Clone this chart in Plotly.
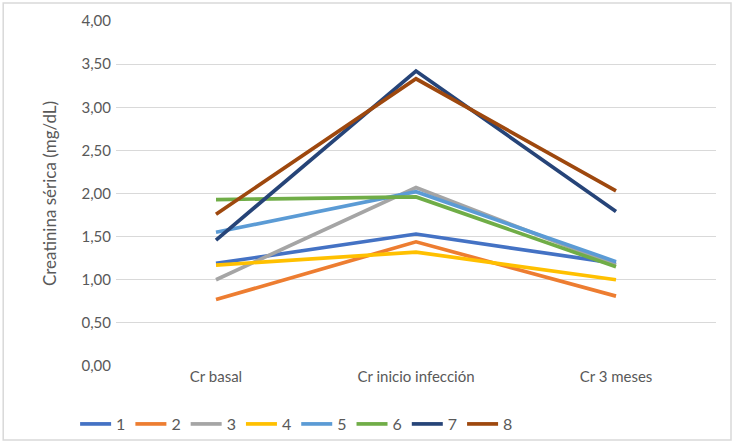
import plotly.graph_objects as go

categories = ["Cr basal", "Cr inicio infección", "Cr 3 meses"]
series_names = ["1", "2", "3", "4", "5", "6", "7", "8"]
s1 = [1.19, 1.53, 1.19]
s2 = [0.77, 1.44, 0.81]
s3 = [1.00, 2.07, 1.17]
s4 = [1.17, 1.32, 1.00]
s5 = [1.55, 2.02, 1.21]
s6 = [1.93, 1.96, 1.15]
s7 = [1.46, 3.42, 1.79]
s8 = [1.76, 3.33, 2.03]
y_ticks = [0, 0.5, 1, 1.5, 2, 2.5, 3, 3.5, 4]

series_values = [s1, s2, s3, s4, s5, s6, s7, s8]
colors = ["#4472C4", "#ED7D31", "#A5A5A5", "#FFC000", "#5B9BD5", "#70AD47", "#264478", "#9E480E"]

fig = go.Figure()
for name, vals, c in zip(series_names, series_values, colors):
    fig.add_trace(go.Scatter(x=categories, y=vals, name=name, mode="lines",
                             line=dict(color=c, width=3.7)))

font = "Lato, Carlito, 'Liberation Sans', sans-serif"
fig.update_layout(
    width=736, height=444,
    margin=dict(l=116, r=20, t=21, b=78, autoexpand=False),
    paper_bgcolor="white", plot_bgcolor="white",
    separators=",.",
    font=dict(family=font, color="#595959", size=15),
    showlegend=True,
    legend=dict(orientation="h", xref="container", yref="container",
                x=0.403, xanchor="center", y=0.045, yanchor="middle",
                font=dict(size=16, color="#595959"), traceorder="normal",
                itemwidth=31, tracegroupgap=0, bgcolor="rgba(0,0,0,0)"),
    xaxis=dict(type="category", range=[-0.5, 2.5], showgrid=False, showline=False,
               ticks="", tickfont=dict(size=15, color="#595959"), zeroline=False),
    yaxis=dict(range=[0, 4], tickvals=y_ticks, tickformat=".2f", showgrid=True,
               gridcolor="#D9D9D9", gridwidth=1, zeroline=False, showline=False,
               tickfont=dict(size=15, color="#595959"), ticklen=1, ticks="outside",
               tickcolor="rgba(0,0,0,0)",
               title=dict(text="Creatinina sérica (mg/dL)", font=dict(size=17, color="#595959"),
                          standoff=20)),
    shapes=[dict(type="rect", xref="paper", yref="paper", x0=-0.188, x1=1.025,
                 y0=-0.2145, y1=1.052, line=dict(color="#D9D9D9", width=1.5),
                 fillcolor="rgba(0,0,0,0)", layer="below")],
)

fig.write_html("out.html", config={"displayModeBar": False},
               post_script="document.body.style.margin='0';document.body.style.overflow='hidden';")
